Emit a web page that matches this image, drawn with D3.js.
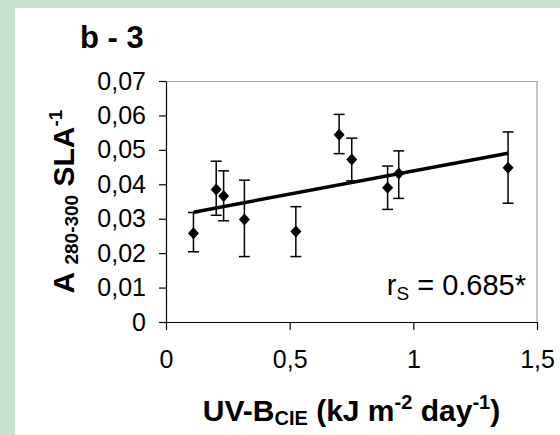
<!DOCTYPE html>
<html>
<head>
<meta charset="utf-8">
<script src="https://cdn.jsdelivr.net/npm/d3@7"></script>
<style>
  body { margin: 0; background: #ffffff; }
  text { font-family: "Liberation Sans", Arial, sans-serif; }
</style>
</head>
<body>
<script>
// chart values
var uvb = [0.111, 0.203, 0.233, 0.317, 0.525, 0.700, 0.751, 0.896, 0.941, 1.383];
var absorb = [0.0258, 0.0385, 0.0366, 0.0298, 0.0263, 0.0544, 0.0472, 0.0390, 0.0431, 0.0448];
var errLow = [0.0204, 0.0310, 0.0294, 0.0190, 0.0190, 0.0489, 0.0410, 0.0327, 0.0359, 0.0345];
var errHigh = [0.0318, 0.0467, 0.0439, 0.0412, 0.0335, 0.0603, 0.0534, 0.0453, 0.0497, 0.0552];
var trendX = [0.111, 1.383];
var trendY = [0.0319, 0.0490];
var xTicks = [0, 0.5, 1, 1.5];
var xTickLabels = ["0", "0,5", "1", "1,5"];
var yTicks = [0, 0.01, 0.02, 0.03, 0.04, 0.05, 0.06, 0.07];
var yTickLabels = ["0", "0,01", "0,02", "0,03", "0,04", "0,05", "0,06", "0,07"];

var svgWidth = 560;
var svgHeight = 435;

var margin = {
  top: 81,
  right: 23,
  bottom: 113,
  left: 166
};
var width = svgWidth - margin.left - margin.right;
var height = svgHeight - margin.top - margin.bottom;

var svg = d3.select("body")
  .append("svg")
  .attr("width", svgWidth)
  .attr("height", svgHeight);

// green frame on the left and top
svg.append("rect")
  .attr("width", svgWidth)
  .attr("height", svgHeight)
  .attr("fill", "#c6e1cc");
svg.append("rect")
  .attr("x", 15)
  .attr("y", 8)
  .attr("width", svgWidth - 15)
  .attr("height", svgHeight - 8)
  .attr("fill", "#ffffff");

var chartGroup = svg.append("g")
  .attr("transform", `translate(${margin.left}, ${margin.top})`);

var xscale = d3.scaleLinear().domain([0, 1.5]).range([0, width]);
var yscale = d3.scaleLinear().domain([0, 0.07]).range([height, 0]);

// gray frame top / right
chartGroup.append("path")
  .attr("d", `M0,0.5H${width}V${height}`)
  .attr("fill", "none")
  .attr("stroke", "#a0a0a0")
  .attr("stroke-width", 1.2);

var bottomAxis = d3.axisBottom(xscale)
  .tickValues(xTicks)
  .tickFormat((d, i) => xTickLabels[i])
  .tickSizeInner(8)
  .tickSizeOuter(0)
  .tickPadding(20);
var leftAxis = d3.axisLeft(yscale)
  .tickValues(yTicks)
  .tickFormat((d, i) => yTickLabels[i])
  .tickSizeInner(7)
  .tickSizeOuter(0)
  .tickPadding(13);

var xg = chartGroup.append("g")
  .attr("transform", `translate(0, ${height})`)
  .call(bottomAxis);
var yg = chartGroup.append("g").call(leftAxis);

[xg, yg].forEach(function(g) {
  g.selectAll("path, line").attr("stroke", "#000").attr("stroke-width", 1.2);
  g.selectAll("text")
    .attr("fill", "#000")
    .style("font-size", "25px")
    .style("font-family", '"Liberation Sans", Arial, sans-serif');
});

var points = uvb.map(function(x, i) {
  return { x: x, y: absorb[i], lo: errLow[i], hi: errHigh[i] };
});

// error bars
var bars = chartGroup.selectAll(".err")
  .data(points)
  .enter()
  .append("g")
  .attr("class", "err")
  .attr("stroke", "#000")
  .attr("stroke-width", 1.5);
bars.append("line")
  .attr("x1", d => xscale(d.x)).attr("x2", d => xscale(d.x))
  .attr("y1", d => yscale(d.lo)).attr("y2", d => yscale(d.hi));
bars.append("line")
  .attr("x1", d => xscale(d.x) - 5.5).attr("x2", d => xscale(d.x) + 5.5)
  .attr("y1", d => yscale(d.lo)).attr("y2", d => yscale(d.lo));
bars.append("line")
  .attr("x1", d => xscale(d.x) - 5.5).attr("x2", d => xscale(d.x) + 5.5)
  .attr("y1", d => yscale(d.hi)).attr("y2", d => yscale(d.hi));

// regression line
chartGroup.append("line")
  .attr("x1", xscale(trendX[0]))
  .attr("y1", yscale(trendY[0]))
  .attr("x2", xscale(trendX[1]))
  .attr("y2", yscale(trendY[1]))
  .attr("stroke", "#000")
  .attr("stroke-width", 3.5);

// diamonds
chartGroup.selectAll(".pt")
  .data(points)
  .enter()
  .append("path")
  .attr("class", "pt")
  .attr("d", "M0,-6L5.5,0L0,6L-5.5,0Z")
  .attr("transform", d => `translate(${xscale(d.x)}, ${yscale(d.y)})`)
  .attr("fill", "#000");

// r_s annotation
var rs = chartGroup.append("text")
  .attr("x", 360)
  .attr("y", 214)
  .attr("text-anchor", "end")
  .style("font-size", "29px")
  .attr("fill", "#000");
rs.append("tspan").text("r");
rs.append("tspan").attr("dy", 5).style("font-size", "19px").text("S");
rs.append("tspan").attr("dy", -5).text(" = 0.685*");

// title
svg.append("text")
  .attr("x", 80)
  .attr("y", 48)
  .style("font-size", "31px")
  .style("font-weight", "bold")
  .attr("fill", "#000")
  .text("b - 3");

// y label
var ylab = svg.append("text")
  .attr("transform", `translate(74, ${margin.top + height / 2}) rotate(-90)`)
  .attr("text-anchor", "middle")
  .style("font-size", "30px")
  .style("font-weight", "bold")
  .attr("fill", "#000");
ylab.append("tspan").text("A ");
ylab.append("tspan").attr("dy", 4).style("font-size", "19px").text("280-300");
ylab.append("tspan").attr("dy", -4).text(" SLA");
ylab.append("tspan").attr("dy", -12).style("font-size", "19px").text("-1");

// x label
var xlab = svg.append("text")
  .attr("x", margin.left + width / 2)
  .attr("y", 421)
  .attr("text-anchor", "middle")
  .style("font-size", "30px")
  .style("font-weight", "bold")
  .attr("fill", "#000");
xlab.append("tspan").text("UV-B");
xlab.append("tspan").attr("dy", 4).style("font-size", "20px").text("CIE");
xlab.append("tspan").attr("dy", -4).text(" (kJ m");
xlab.append("tspan").attr("dy", -12).style("font-size", "20px").text("-2");
xlab.append("tspan").attr("dy", 12).text(" day");
xlab.append("tspan").attr("dy", -12).style("font-size", "20px").text("-1");
xlab.append("tspan").attr("dy", 12).text(")");
</script>
</body>
</html>
